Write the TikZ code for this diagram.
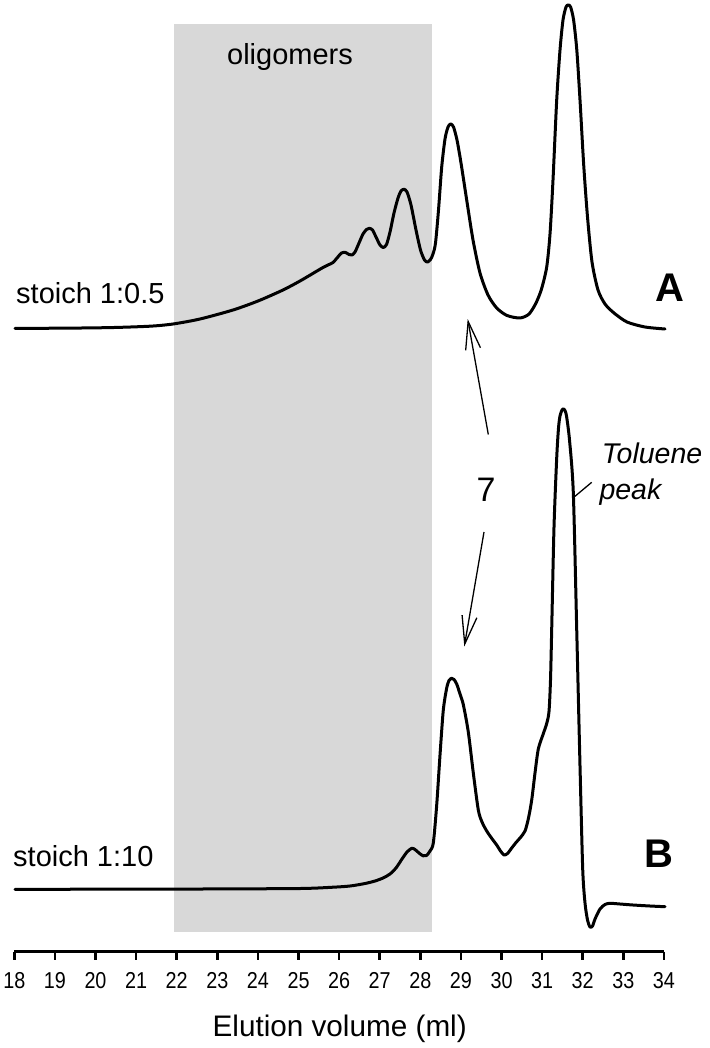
\documentclass[tikz,border=0pt]{standalone}
\usepackage{fontspec}
\setmainfont{Liberation Sans}
\newfontfamily\tickfont{Liberation Sans}[FakeStretch=0.86]
\usetikzlibrary{arrows.meta}
\definecolor{oligogray}{RGB}{216,216,216}
\begin{document}
\begin{tikzpicture}[x=1pt,y=-1pt,
  curve/.style={line width=3pt, line join=round, line cap=round},
  pointer/.style={line width=1.3pt, -{Straight Barb[length=28pt,width=15pt,line width=1.3pt]}},
  ticklabel/.style={anchor=base, inner sep=0pt, font=\tickfont\fontsize{23}{27}\selectfont},
  textlabel/.style={inner sep=0pt, font=\fontsize{29}{34}\selectfont},
  italabel/.style={inner sep=0pt, anchor=base west, font=\itshape\fontsize{28.5}{33}\selectfont},
  tracename/.style={anchor=base, inner sep=0pt, font=\bfseries\fontsize{40}{46}\selectfont}]
\useasboundingbox (0,0) rectangle (709,1048);
% shaded oligomer region
\fill[oligogray] (174,24) rectangle (431.7,931.7);
\node[textlabel, anchor=base] (olig) at (290,64.3) {oligomers};
% trace A
\draw[curve] plot[smooth, tension=0.45] coordinates {
(15,328.3) (60,328.2) (110,327.6) (150,326.2) (173,324) (200,319) (233,310) (258,301) (283,290) (300,281) (317,271) (323,267.5) (328,265) (333,262.5) (337,258) (341.5,253) (345.5,252.5) (349,254.5) (352,255) (355,252) (359,243) (363,234) (366.5,229.5) (369.3,228.3) (372.5,230) (376,237) (380,245) (383.3,247.5) (386.5,244.5) (390,232) (394,213) (398,198) (401,191) (404,189.3) (407,192) (411,205) (416,230) (420.5,250) (424.5,260) (427.5,262) (430.5,259.5) (433,254) (435.5,243) (438.5,210) (441.7,167) (445,139) (448,127) (450.7,124) (453.5,127) (457,140) (461,163) (466.7,200) (473,240) (480,273) (488,295) (496.7,308) (507,315.5) (520,318) (529,314) (536,303) (541.5,289) (546.7,267) (550,234) (553,180) (556.7,100) (560,50) (563,20) (566,7) (568.3,5) (570.6,7) (573.6,20) (576.8,50) (580,100) (583.7,165) (587.5,217) (592,262) (598,290) (605,304) (614,313) (627,322) (645,327) (665,329)};
% trace B
\draw[curve] plot[smooth, tension=0.45] coordinates {
(15,889.3) (100,889.2) (200,889) (300,888.5) (333,887.2) (350,886) (365,883.5) (375,881) (383,878) (390,874) (396,868) (402,859) (407,852) (411.7,848.3) (415,849.5) (419,853) (423,855.8) (426.5,855.5) (430,851) (433.3,843) (436.7,805) (440,755) (443.3,710) (446.7,688) (449,680.5) (451.7,678.3) (454,679.5) (456.7,684) (460,694) (463.3,704.6) (468.3,732) (473.3,773) (478.3,810) (482,822) (486.7,831) (491.5,838) (496.7,845) (500.5,851) (504,855) (507.5,853.5) (511.7,848) (516,842.5) (520,838) (525,831) (528.5,818) (531.7,800) (535,773) (538.3,749) (543.3,733.7) (546.7,723.5) (549,711.5) (550.5,680) (551.7,629) (554,527) (556.7,458) (558.5,428) (560,416) (562,410) (563.3,408.8) (564.7,410) (566.5,416) (569.5,440) (573.3,492.6) (576.7,629) (580,766) (582.7,869) (585,903) (587.5,920) (590,927) (592.5,926) (595,919) (600,909) (605,904.5) (610,903.3) (620,904) (633,905) (650,906) (665,906.7)};
% trace labels
\node[textlabel, anchor=base west] (sA) at (16,303.3) {stoich 1:0.5};
\node[textlabel, anchor=base west] (sB) at (13,866) {stoich 1:10};
\node[tracename] (lA) at (669.5,301.7) {A};
\node[tracename] (lB) at (659,867) {B};
% compound 7 arrows
\node[inner sep=0pt, anchor=base, font=\fontsize{34}{40}\selectfont] (n7) at (486,501) {7};
\coordinate (upTail) at (488.3,434.5);
\coordinate (upTip) at (467.7,319);
\coordinate (dnTail) at (484,532);
\coordinate (dnTip) at (464.3,646.5);
\draw[pointer] (upTail) -- (upTip);
\draw[pointer] (dnTail) -- (dnTip);
% toluene label
\node[italabel] (tol) at (601.7,463.5) {Toluene};
\node[italabel] (pk) at (599.3,499.4) {peak};
\coordinate (tolA) at (573.3,497.7);
\coordinate (tolB) at (591.7,482.3);
\draw[line width=1.3pt] (tolA) -- (tolB);
% axis
\coordinate (ax0) at (14.3,951.7);
\coordinate (ax1) at (664,951.7);
\draw[line width=2.7pt] (ax0) -- (ax1);
\foreach \v in {18,...,34} {
  \pgfmathsetmacro{\xx}{14.3+40.6*(\v-18)}
  \draw[line width=2.5pt] (\xx,951.7) -- (\xx,959.5);
  \node[ticklabel] (t\v) at (\xx,988.3) {\v};
}
\node[textlabel, anchor=base] (xlab) at (339.7,1036.7) {\fontsize{29.7}{34}\selectfont Elution volume (ml)};
\end{tikzpicture}
\end{document}
